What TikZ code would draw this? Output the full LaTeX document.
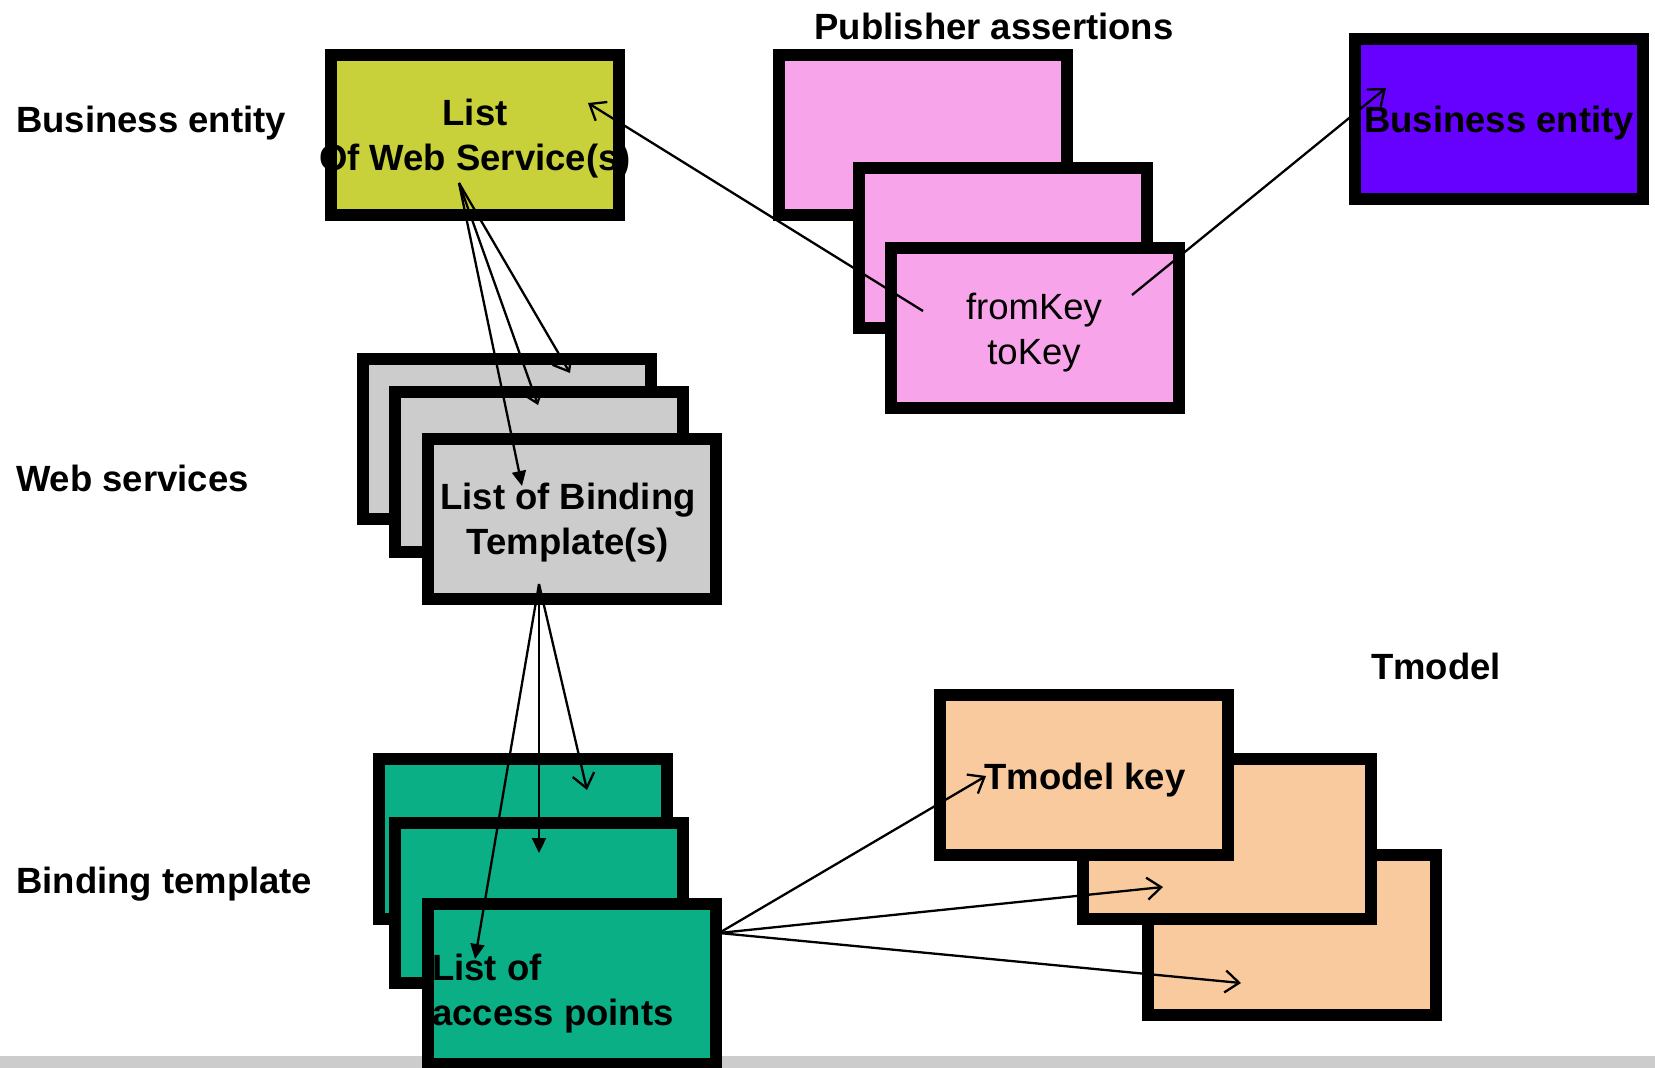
\documentclass[tikz,border=0pt]{standalone}
\usepackage{fontspec}
\setmainfont{Liberation Sans}
\usetikzlibrary{arrows.meta}
\definecolor{olivebox}{RGB}{200,209,58}
\definecolor{pinkbox}{RGB}{248,164,234}
\definecolor{violetbox}{RGB}{102,0,255}
\definecolor{greybox}{RGB}{204,204,204}
\definecolor{greenbox}{RGB}{10,175,133}
\definecolor{peachbox}{RGB}{249,202,158}
\tikzset{card/.style={
    draw, line width=12pt,
    minimum width=288pt, minimum height=160pt,
    inner sep=0pt, outer sep=0pt
  },
  big/.style={font=\fontsize{36.5}{45}\selectfont\bfseries, inner sep=0pt, align=center},
  plain big/.style={font=\fontsize{36.5}{45}\selectfont, inner sep=0pt, align=center},
  open tip/.style={line width=2.3pt, -{Straight Barb[length=14pt,width=22pt]}},
  full tip/.style={line width=2.3pt, -{Triangle[length=15pt,width=14pt]}}
}
\begin{document}
\begin{tikzpicture}[x=1pt, y=-1pt]
  \useasboundingbox (0,0) rectangle (1655,1068);
  \fill[greybox] (0,1056) rectangle (1655,1068);

  % row titles
  \node[big, anchor=west] (t-be) at (16,123) {Business entity};
  \node[big, anchor=west] (t-ws) at (16,478) {Web services};
  \node[big, anchor=west] (t-bt) at (16,884) {Binding template};
  \node[big] (t-pa) at (994,26) {Publisher assertions};
  \node[big] (t-tm) at (1436,666) {Tmodel};

  % stacks of cards
  \node[card, fill=olivebox] (be) at (475,135) {};
  \node[card, fill=violetbox] (be2) at (1499,118.5) {};
  \foreach \x/\y [count=\i] in {923/134.5, 1003/247.5, 1035/327.5}
    \node[card, fill=pinkbox] (pa\i) at (\x,\y) {};
  \foreach \x/\y [count=\i] in {507/439, 539/471.5, 571.5/519}
    \node[card, fill=greybox] (ws\i) at (\x,\y) {};
  \foreach \x/\y [count=\i] in {523/838.5, 538.5/902.5, 571.5/984}
    \node[card, fill=greenbox] (bt\i) at (\x,\y) {};
  \foreach \x/\y/\i in {1291.5/935/3, 1227/839/2, 1083.5/775/1}
    \node[card, fill=peachbox] (tm\i) at (\x,\y) {};

  % card texts
  \node[big] (be-txt) at (475,139) {List\\Of Web Service(s)};
  \node[big] (be2-txt) at (1499,123) {Business entity};
  \node[plain big] (pa-txt) at (1034,333) {fromKey\\toKey};
  \node[big] (ws-txt) at (568,523) {List of Binding\\Template(s)};
  \node[big, align=left, anchor=west] (bt-txt) at (432,994) {List of\\access points};
  \node[big] (tm-txt) at (1085,780) {Tmodel key};

  % ends of the connectors
  \coordinate (ws-src) at (459,183);
  \coordinate (bt-src) at (539,584);
  \coordinate (tm-src) at (719,933);
  \coordinate (from-src) at (923,311);
  \coordinate (to-src) at (1132,295);
  \coordinate (ws1-in) at (570,373);
  \coordinate (ws2-in) at (538,405);
  \coordinate (ws3-in) at (522,486);
  \coordinate (bt1-in) at (587,790);
  \coordinate (bt2-in) at (539,853);
  \coordinate (bt3-in) at (475,959);
  \coordinate (tm1-in) at (986,776);
  \coordinate (tm2-in) at (1163,887);
  \coordinate (tm3-in) at (1241,983);
  \coordinate (be-in) at (588,103);
  \coordinate (be2-in) at (1386,88);

  \draw[open tip] (ws-src) -- (ws1-in);
  \draw[open tip] (ws-src) -- (ws2-in);
  \draw[full tip] (ws-src) -- (ws3-in);
  \draw[open tip] (bt-src) -- (bt1-in);
  \draw[full tip] (bt-src) -- (bt2-in);
  \draw[full tip] (bt-src) -- (bt3-in);
  \foreach \i in {1,2,3}
    \draw[open tip] (tm-src) -- (tm\i-in);
  \draw[open tip] (from-src) -- (be-in);
  \draw[open tip] (to-src) -- (be2-in);
\end{tikzpicture}
\end{document}
